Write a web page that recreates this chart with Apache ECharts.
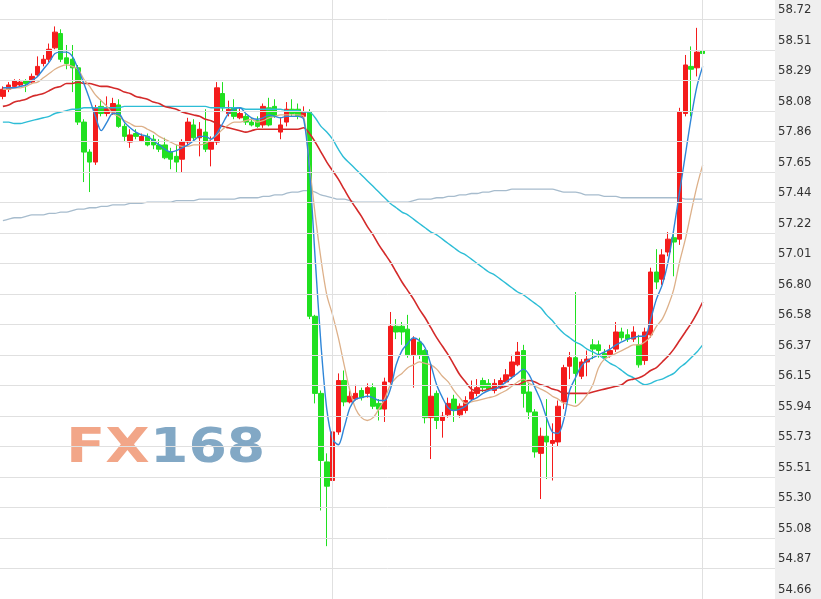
<!DOCTYPE html>
<html><head><meta charset="utf-8">
<script src="https://cdn.jsdelivr.net/npm/echarts@6/dist/echarts.min.js"></script>
<style>html,body{margin:0;padding:0;background:#fff}#c{width:821px;height:599px}</style>
</head><body><div id="c"></div>
<script>
// right-hand axis labels, bottom to top
const tickLabels = ['54.66','54.87','55.08','55.30','55.51','55.73','55.94','56.15','56.37','56.58',
  '56.80','57.01','57.22','57.44','57.65','57.86','58.08','58.29','58.51','58.72'];
const priceTop = 58.855;   // price at the top edge of the plot
const slotCount = 134;     // candle slots across the plot (last ones empty)
const dayBreaks = [57, 121];

// [open, close, low, high]
const ohlc = [
[58.18,58.23,58.16,58.25],[58.23,58.26,58.21,58.28],[58.25,58.29,58.24,58.30],[58.26,58.28,58.25,58.30],[58.29,58.27,58.21,58.30],
[58.28,58.32,58.27,58.34],[58.33,58.39,58.32,58.46],[58.41,58.44,58.39,58.47],[58.44,58.51,58.42,58.55],[58.52,58.63,58.51,58.67],
[58.62,58.44,58.42,58.65],[58.45,58.41,58.37,58.54],[58.44,58.38,58.21,58.54],[58.38,58.00,57.98,58.40],[58.00,57.79,57.58,58.02],
[57.79,57.72,57.51,57.81],[57.72,58.10,57.70,58.12],[58.11,58.06,58.04,58.16],[58.06,58.10,58.04,58.18],[58.07,58.13,58.05,58.17],
[58.12,57.97,57.96,58.16],[57.97,57.90,57.86,57.99],[57.86,57.91,57.82,57.95],[57.92,57.90,57.88,57.95],[57.87,57.90,57.86,57.92],
[57.90,57.84,57.83,57.92],[57.88,57.84,57.81,57.91],[57.84,57.81,57.79,57.88],[57.84,57.75,57.74,57.89],[57.79,57.74,57.67,57.82],
[57.76,57.72,57.65,57.84],[57.74,57.86,57.65,57.88],[57.86,58.00,57.84,58.03],[57.98,57.89,57.86,58.02],[57.89,57.95,57.76,58.00],
[57.93,57.81,57.79,58.09],[57.81,57.86,57.69,57.90],[57.86,58.24,57.84,58.28],[58.20,58.10,58.07,58.28],[58.06,58.09,58.04,58.15],
[58.10,58.04,58.02,58.16],[58.03,58.06,58.02,58.10],[58.04,58.00,57.98,58.06],[58.00,57.98,57.97,58.03],[58.01,57.97,57.96,58.04],
[57.98,58.11,57.96,58.13],[58.10,57.98,57.97,58.17],[58.11,58.04,58.03,58.16],[57.93,57.98,57.88,58.03],[58.00,58.09,57.97,58.14],
[58.09,58.06,58.04,58.16],[58.09,58.04,58.02,58.13],[58.04,58.07,58.02,58.11],[58.07,56.64,56.62,58.09],[56.64,56.10,56.03,56.65],
[56.10,55.63,55.28,56.12],[55.62,55.45,55.03,55.68],[55.49,55.83,55.43,55.85],[55.83,56.19,55.81,56.24],[56.19,56.04,56.01,56.26],
[56.04,56.08,56.03,56.12],[56.06,56.10,56.05,56.16],[56.12,56.07,56.05,56.14],[56.10,56.14,56.07,56.17],[56.14,56.01,55.99,56.17],
[56.03,55.99,55.91,56.06],[55.99,56.18,55.90,56.21],[56.18,56.57,56.16,56.67],[56.57,56.53,56.48,56.62],[56.57,56.53,56.44,56.60],
[56.55,56.37,56.35,56.65],[56.37,56.48,56.14,56.50],[56.46,56.37,56.34,56.49],[56.40,55.93,55.89,56.41],[55.93,56.08,55.64,56.30],
[56.10,55.91,55.85,56.12],[55.91,55.94,55.79,55.97],[55.95,56.03,55.93,56.07],[56.06,55.98,55.90,56.09],[55.95,56.01,55.93,56.03],
[55.98,56.05,55.96,56.08],[56.06,56.11,56.05,56.19],[56.10,56.14,56.08,56.20],[56.19,56.14,56.11,56.21],[56.17,56.13,56.12,56.20],
[56.12,56.17,56.10,56.20],[56.14,56.19,56.13,56.21],[56.18,56.23,56.17,56.27],[56.22,56.32,56.20,56.37],[56.30,56.39,56.29,56.46],
[56.40,56.10,56.00,56.44],[56.11,55.97,55.92,56.17],[55.97,55.69,55.65,55.99],[55.68,55.80,55.36,55.86],[55.80,55.76,55.50,56.06],
[55.75,55.77,55.49,55.89],[55.76,56.01,55.73,56.05],[56.04,56.28,55.99,56.30],[56.29,56.35,56.20,56.39],[56.35,56.24,56.03,56.81],
[56.22,56.32,56.20,56.34],[56.32,56.34,56.22,56.40],[56.44,56.41,56.34,56.48],[56.44,56.40,56.35,56.47],[56.38,56.35,56.34,56.41],
[56.37,56.40,56.35,56.44],[56.41,56.53,56.39,56.60],[56.53,56.49,56.47,56.56],[56.51,56.48,56.46,56.55],[56.48,56.53,56.46,56.57],
[56.44,56.30,56.28,56.51],[56.33,56.53,56.30,56.56],[56.51,56.95,56.49,56.98],[56.95,56.88,56.83,57.11],[56.90,57.07,56.86,57.11],
[57.09,57.18,57.06,57.23],[57.19,57.16,56.92,57.23],[57.18,58.07,57.14,58.10],[58.06,58.40,58.04,58.47],[58.39,58.37,58.04,58.53],
[58.38,58.49,58.32,58.66],[58.50,58.48,58.38,58.60]
];

const maBlue = [
58.24,58.24,58.24,58.25,58.26,58.29,58.32,58.37,58.42,58.48,
58.49,58.49,58.46,58.37,58.27,58.16,58.04,57.94,58.00,58.06,
58.06,58.00,57.96,57.93,57.91,57.90,57.87,57.84,57.81,57.79,
57.80,57.82,57.84,57.87,57.90,57.90,57.88,57.92,57.99,58.06,
58.09,58.10,58.06,58.03,58.02,58.03,58.05,58.04,58.03,58.04,
58.04,58.04,58.02,57.67,57.04,56.44,55.99,55.78,55.74,55.86,
56.00,56.06,56.07,56.08,56.07,56.05,56.05,56.13,56.30,56.40,
56.45,56.49,56.47,56.42,56.30,56.16,56.07,56.00,55.98,55.99,
56.01,56.05,56.07,56.10,56.12,56.13,56.15,56.18,56.21,56.24,
56.27,56.23,56.14,56.05,55.93,55.83,55.82,55.92,56.12,56.21,
56.29,56.33,56.35,56.37,56.39,56.41,56.44,56.46,56.48,56.49,
56.50,56.50,56.62,56.76,56.86,57.02,57.25,57.51,57.77,58.03,
58.25,58.39];

const maTan = [
58.23,58.23,58.24,58.24,58.25,58.27,58.28,58.31,58.34,58.37,
58.39,58.40,58.39,58.37,58.30,58.25,58.19,58.15,58.11,58.06,
58.04,58.01,57.99,57.97,57.97,57.95,57.93,57.90,57.88,57.86,
57.84,57.83,57.83,57.84,57.84,57.85,57.88,57.91,57.95,57.98,
58.00,58.00,58.01,58.02,58.00,58.01,58.03,58.04,58.05,58.05,
58.05,58.05,58.04,57.70,57.35,57.04,56.79,56.65,56.49,56.30,
56.12,55.99,55.93,55.91,55.93,55.99,56.06,56.16,56.21,56.24,
56.28,56.30,56.32,56.31,56.30,56.27,56.22,56.18,56.12,56.07,
56.03,56.04,56.05,56.06,56.07,56.08,56.10,56.12,56.15,56.18,
56.20,56.17,56.15,56.13,56.11,56.08,56.06,56.03,56.02,56.01,
56.04,56.09,56.16,56.28,56.34,56.36,56.38,56.40,56.42,56.44,
56.44,56.46,56.50,56.57,56.62,56.71,56.83,57.02,57.18,57.37,
57.55,57.70];

const maRed = [
58.11,58.12,58.14,58.15,58.16,58.18,58.19,58.20,58.22,58.24,
58.25,58.27,58.27,58.28,58.27,58.27,58.26,58.25,58.25,58.24,
58.23,58.21,58.20,58.18,58.17,58.16,58.14,58.13,58.11,58.10,
58.09,58.07,58.06,58.05,58.04,58.02,58.01,57.99,57.97,57.96,
57.95,57.94,57.93,57.94,57.95,57.95,57.95,57.95,57.95,57.95,
57.95,57.95,57.96,57.92,57.86,57.79,57.72,57.66,57.60,57.53,
57.46,57.40,57.34,57.27,57.21,57.14,57.08,57.02,56.95,56.88,
56.82,56.76,56.69,56.63,56.56,56.49,56.43,56.37,56.30,56.23,
56.18,56.13,56.12,56.12,56.13,56.14,56.14,56.15,56.16,56.16,
56.18,56.19,56.18,56.16,56.15,56.13,56.12,56.10,56.10,56.10,
56.10,56.10,56.11,56.12,56.13,56.14,56.15,56.16,56.19,56.20,
56.21,56.23,56.26,56.28,56.32,56.36,56.41,56.47,56.53,56.59,
56.66,56.74];

const maCyan = [
58.00,58.00,57.99,57.99,58.00,58.01,58.02,58.03,58.04,58.06,
58.07,58.08,58.09,58.09,58.10,58.10,58.10,58.10,58.10,58.10,
58.10,58.11,58.11,58.11,58.11,58.11,58.11,58.11,58.11,58.11,
58.11,58.11,58.11,58.11,58.11,58.11,58.10,58.10,58.10,58.10,
58.10,58.10,58.09,58.09,58.09,58.09,58.09,58.09,58.09,58.08,
58.08,58.08,58.07,58.07,58.03,57.97,57.93,57.88,57.81,57.75,
57.71,57.67,57.63,57.59,57.55,57.51,57.47,57.43,57.40,57.37,
57.35,57.32,57.29,57.26,57.23,57.21,57.18,57.15,57.12,57.09,
57.07,57.04,57.01,56.98,56.95,56.93,56.90,56.87,56.84,56.81,
56.79,56.76,56.73,56.70,56.65,56.61,56.56,56.52,56.49,56.46,
56.44,56.41,56.39,56.37,56.34,56.31,56.29,56.26,56.23,56.21,
56.18,56.16,56.17,56.19,56.20,56.22,56.24,56.28,56.31,56.35,
56.39,56.44];

const maGrey = [
57.31,57.32,57.33,57.33,57.34,57.35,57.35,57.35,57.36,57.36,
57.37,57.37,57.38,57.39,57.39,57.40,57.40,57.41,57.41,57.42,
57.42,57.42,57.43,57.43,57.43,57.44,57.44,57.44,57.44,57.44,
57.45,57.45,57.45,57.45,57.46,57.46,57.46,57.46,57.46,57.46,
57.46,57.47,57.47,57.47,57.47,57.48,57.48,57.49,57.49,57.50,
57.51,57.51,57.52,57.52,57.51,57.49,57.48,57.47,57.46,57.46,
57.45,57.44,57.44,57.44,57.44,57.44,57.44,57.44,57.44,57.44,
57.44,57.45,57.46,57.46,57.46,57.47,57.47,57.48,57.48,57.49,
57.49,57.50,57.50,57.51,57.51,57.52,57.52,57.52,57.53,57.53,
57.53,57.53,57.53,57.53,57.53,57.53,57.52,57.51,57.51,57.51,
57.50,57.49,57.49,57.49,57.48,57.48,57.48,57.47,57.47,57.47,
57.47,57.47,57.47,57.47,57.47,57.47,57.47,57.47,57.46,57.46,
57.46,57.46];

const categories = [];
for (let i = 0; i < slotCount; i++) categories.push(String(i));

const priceMin = parseFloat(tickLabels[0]);
const priceStep = (parseFloat(tickLabels[tickLabels.length - 1]) - priceMin) / (tickLabels.length - 1);
const tickTop = (priceTop - priceMin) / priceStep;

const UP = '#f41c1c', DOWN = '#20e020', GRID = '#e0e0e0';
const lineSeries = (name, data, color, width, z) => ({
  name: name, type: 'line', data: data, symbol: 'none', smooth: 0.3, z: z,
  lineStyle: { color: color, width: width }, itemStyle: { color: color }, silent: true
});

const greySeries = lineSeries('MA120', maGrey, '#a7bccd', 1.3, 1);
greySeries.markLine = {
  silent: true, symbol: ['none', 'none'], label: { show: false },
  lineStyle: { color: GRID, type: 'solid', width: 1 },
  data: dayBreaks.map(i => ({ xAxis: categories[i] }))
};

const chart = echarts.init(document.getElementById('c'));
chart.setOption({
  animation: false,
  backgroundColor: '#ffffff',
  grid: { left: -3, right: 46, top: 0, height: 600 },
  xAxis: { type: 'category', data: categories, boundaryGap: true, show: false },
  yAxis: [
    { type: 'value', min: priceMin, max: priceTop, show: false },
    { type: 'value', min: 0, max: tickTop, interval: 1, position: 'right', z: 5,
      axisLine: { show: false }, axisTick: { show: false },
      splitLine: { show: true, showMaxLine: false, showMinLine: false, lineStyle: { color: GRID, width: 1 } },
      axisLabel: {
        margin: 3, color: '#333', fontSize: 13,
        fontFamily: '"DejaVu Sans Condensed", "Liberation Sans", sans-serif',
        verticalAlign: 'bottom', padding: [0, 0, 3, 0],
        showMaxLabel: false,
        formatter: v => (Math.abs(v - Math.round(v)) < 1e-6 && tickLabels[Math.round(v)]) ? tickLabels[Math.round(v)] : ''
      }
    }
  ],
  graphic: [
    { type: 'rect', left: 775, top: 0, z: -10, silent: true, shape: { width: 46, height: 599 }, style: { fill: '#efefef' } },
    { type: 'rect', left: 55, top: 419, z: 0, silent: true, shape: { width: 215, height: 57 }, style: { fill: '#ffffff' } },
    { type: 'text', x: 66, y: 450, z: 1, scaleX: 1.2, silent: true,
      style: { text: 'FX', fill: '#f2a688', font: 'bold 48px "DejaVu Sans", sans-serif', verticalAlign: 'middle', align: 'left' } },
    { type: 'text', x: 150, y: 450, z: 1, scaleX: 1.15, silent: true,
      style: { text: '168', fill: '#82a8c5', font: 'bold 48px "DejaVu Sans", sans-serif', verticalAlign: 'middle', align: 'left' } }
  ],
  series: [
    greySeries,
    { name: 'K', type: 'candlestick', data: ohlc, barWidth: 5, z: 2,
      itemStyle: { color: UP, color0: DOWN, borderColor: UP, borderColor0: DOWN, borderWidth: 1 } },
    lineSeries('MA60', maCyan, '#2dbdd6', 1.4, 3),
    lineSeries('MA20', maRed, '#d42a2a', 1.6, 3),
    lineSeries('MA10', maTan, '#ddb089', 1.3, 3),
    lineSeries('MA5', maBlue, '#2f86d8', 1.4, 4)
  ]
});
</script>
</body></html>
